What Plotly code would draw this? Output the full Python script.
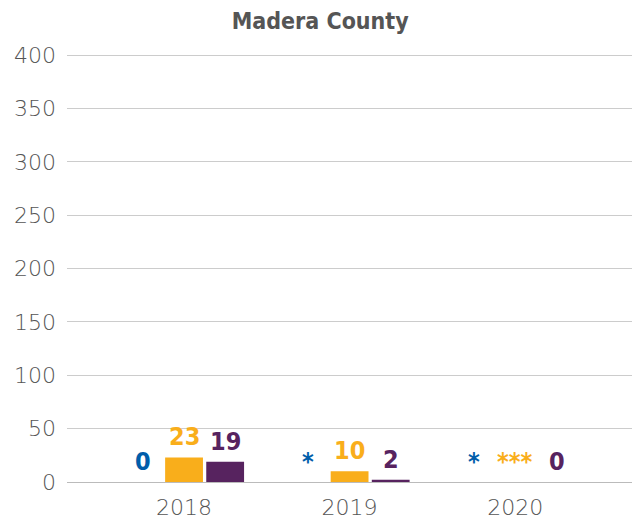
import plotly.graph_objects as go

years = ["2018", "2019", "2020"]
series_names = ["Group A", "Group B", "Group C"]
blue_vals = [0, None, None]
orange_vals = [23, 10, None]
purple_vals = [19, 2, 0]
blue_labels = ["0", "*", "*"]
orange_labels = ["23", "10", "***"]
purple_labels = ["19", "2", "0"]
y_ticks = [0, 50, 100, 150, 200, 250, 300, 350, 400]

colors = ["#005DAA", "#F9AE1B", "#57235F"]
all_vals = [blue_vals, orange_vals, purple_vals]
all_labels = [blue_labels, orange_labels, purple_labels]

fig = go.Figure()
for name, vals, col in zip(series_names, all_vals, colors):
    fig.add_trace(go.Bar(x=years, y=vals, name=name, marker_color=col,
                         marker_line_width=0, hoverinfo="skip"))

label_font = "Liberation Sans Narrow, DejaVu Sans Condensed, Roboto, sans-serif"
tick_font = dict(family="DejaVu Sans", size=22, color="#555555", weight=200)
annotations = []
shifts = [-41.5, 0, 41.5]
for vals, labels, col, sh in zip(all_vals, all_labels, colors, shifts):
    for i, (v, lab) in enumerate(zip(vals, labels)):
        annotations.append(dict(
            x=i, y=v if v is not None else 0, xref="x", yref="y",
            text=lab, showarrow=False, xanchor="center", yanchor="bottom",
            xshift=sh, yshift=4,
            font=dict(family=label_font, size=25, color=col, weight="bold"),
        ))

# page body has an 8px default margin, so the figure is sized to fit
fig.update_layout(
    width=632, height=515,
    margin=dict(l=59, r=4, t=46, b=41),
    paper_bgcolor="white", plot_bgcolor="white",
    barmode="group", bargap=0.255, bargroupgap=0.08,
    showlegend=False,
    title=dict(text="<b>Madera County</b>", x=0.494, xanchor="center",
               y=0.975, yanchor="middle",
               font=dict(family=label_font, size=23, color="#555555")),
    annotations=annotations,
)
fig.update_xaxes(type="category", range=[-0.707, 2.73], showgrid=False, showline=False,
                 ticks="", ticklabelstandoff=10, tickfont=tick_font)
fig.update_yaxes(range=[0, 401], tickvals=y_ticks, showgrid=True, gridcolor="#CCCCCC",
                 gridwidth=1, zeroline=True, zerolinecolor="#BBBBBB", zerolinewidth=1,
                 ticks="", ticklabelstandoff=10, tickfont=tick_font)

fig.write_html("out.html")
